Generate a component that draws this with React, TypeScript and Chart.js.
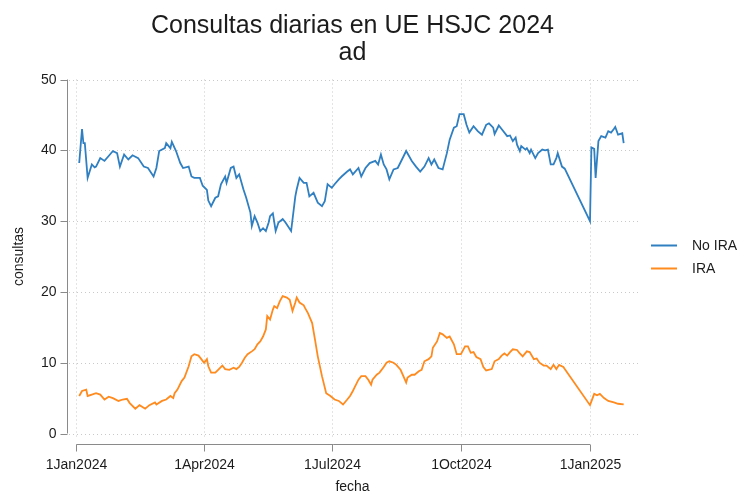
import React, { useEffect, useRef } from "react";
import { Chart, registerables } from "chart.js";

Chart.register(...registerables);

const titleText = "Consultas diarias en UE HSJC 2024";
const subtitleText = "ad";
const xAxisTitle = "fecha";
const yAxisTitle = "consultas";

// x values are days since 1 Jan 2024
const xTickDays = [0, 91, 182, 274, 366];
const xTickLabels = ["1Jan2024", "1Apr2024", "1Jul2024", "1Oct2024", "1Jan2025"];
const yTicks = [0, 10, 20, 30, 40, 50];

const seriesNames = ["No IRA", "IRA"];
const seriesColors = ["#2f7fc1", "#ff8a1e"];

const noIraDays = [2,4,5,6,8,11,13,14,17,20,23,26,29,31,34,37,40,44,48,51,55,57,59,63,64,67,68,71,74,76,80,82,84,88,90,93,94,96,99,101,103,106,107,110,112,114,116,119,121,124,125,127,129,131,133,135,137,138,140,142,144,147,149,153,156,157,159,162,164,166,169,172,175,177,179,182,184,187,189,193,195,197,201,203,206,209,213,215,217,219,221,223,226,229,232,235,239,242,245,248,251,253,255,258,261,264,266,269,271,273,276,278,280,283,286,289,292,294,297,298,301,303,307,309,311,313,314,316,317,320,321,323,324,327,329,332,334,336,338,340,342,343,346,348,366,367,369,370,372,374,377,379,381,383,384,386,389,390];
const noIraValues = [38.2,43.0,41.0,41.0,36.1,38.0,37.6,37.7,38.9,38.5,39.2,39.9,39.6,37.7,39.4,38.7,39.3,38.9,37.7,37.5,36.3,37.5,39.9,40.3,41.0,40.3,41.2,39.9,38.2,37.5,37.7,36.3,36.1,36.1,35.0,34.4,32.9,32.1,33.3,33.5,35.2,36.3,35.4,37.5,37.7,36.1,36.6,34.5,33.3,31.2,29.3,30.7,29.8,28.6,29.0,28.6,29.8,30.7,31.1,28.6,29.8,30.3,29.8,28.6,33.5,34.5,36.1,35.4,35.4,33.5,34.0,32.6,32.1,32.8,35.2,34.7,35.2,35.9,36.3,37.0,37.3,36.6,37.5,36.3,37.5,38.2,38.5,38.0,39.4,38.0,37.3,35.9,37.3,37.5,38.7,39.9,38.5,37.7,37.0,37.7,38.9,38.0,38.7,37.5,37.3,39.6,41.5,43.2,43.4,45.1,45.1,43.6,42.5,43.4,42.7,42.2,43.6,43.8,43.2,42.3,43.5,43.0,42.0,42.1,41.3,41.8,40.8,39.9,40.6,40.1,40.3,39.6,40.1,38.9,39.6,40.1,40.0,40.1,38.0,38.0,38.9,39.6,37.7,37.4,30.0,40.4,40.2,36.1,41.3,42.0,41.8,42.7,42.5,43.0,43.3,42.2,42.4,41.0];

const iraDays = [2,4,7,8,11,14,17,20,23,26,30,33,36,38,42,45,49,52,56,57,61,64,67,69,70,72,75,77,80,82,84,87,89,91,93,94,96,99,101,104,106,109,112,114,116,118,120,122,125,127,129,131,133,135,136,138,140,141,143,145,147,150,152,154,156,157,159,162,163,165,168,170,172,175,178,181,184,187,190,193,195,197,198,201,203,206,208,210,211,214,216,219,221,223,226,228,231,233,235,236,239,241,244,246,248,251,253,254,257,259,261,264,266,269,271,274,277,279,281,283,285,288,290,292,296,298,301,303,305,307,309,311,314,316,318,321,323,326,328,330,333,335,338,340,342,344,347,348,366,369,371,373,376,379,383,386,390];
const iraValues = [5.3,6.0,6.2,5.3,5.5,5.7,5.5,4.8,5.2,5.0,4.6,4.8,4.9,4.3,3.5,4.0,3.5,4.0,4.4,4.1,4.6,4.8,5.3,5.0,5.7,6.2,7.4,7.9,9.5,10.9,11.2,11.0,10.5,10.0,10.5,9.5,8.6,8.6,9.0,9.6,9.1,9.0,9.3,9.1,9.4,10.0,10.7,11.2,11.6,11.9,12.6,13.0,13.7,14.7,16.6,16.1,17.5,18.0,17.7,18.7,19.4,19.2,18.9,17.3,18.5,19.2,18.5,18.1,17.7,17.0,15.6,13.3,10.9,8.1,5.7,5.3,4.8,4.6,4.1,4.8,5.3,6.0,6.4,7.6,8.1,8.1,7.6,6.9,7.6,8.3,8.6,9.4,10.0,10.2,10.0,9.7,9.0,8.1,7.2,7.9,8.3,8.3,8.8,9.0,10.2,10.5,10.9,12.1,13.0,14.2,14.0,13.5,13.7,12.6,11.2,11.2,12.3,12.3,11.4,11.5,10.8,10.5,9.4,8.9,9.1,10.2,10.5,11.0,11.3,11.0,11.5,11.9,11.8,11.3,10.9,11.6,11.5,10.5,10.6,10.0,9.6,9.6,9.1,9.7,9.1,9.7,9.4,9.1,4.0,5.6,5.4,5.6,5.0,4.6,4.4,4.2,4.1];

const FONT = "'Liberation Sans', Arial, sans-serif";
const TEXT = "#1c1c1c";
const AXIS = "#8a8a8a";
const GRID = "#c9c9c9";

const stataPlugin = {
  id: "stataLook",
  beforeDatasetsDraw(chart: any) {
    const { ctx, chartArea, scales } = chart;
    const x = scales.x;
    const y = scales.y;
    ctx.save();
    ctx.strokeStyle = GRID;
    ctx.lineWidth = 1;
    ctx.setLineDash([1, 3]);
    yTicks.forEach((v) => {
      const py = Math.round(y.getPixelForValue(v)) + 0.5;
      ctx.beginPath();
      ctx.moveTo(chartArea.left + 2, py);
      ctx.lineTo(chartArea.right, py);
      ctx.stroke();
    });
    xTickDays.forEach((d) => {
      const px = Math.round(x.getPixelForValue(d)) + 0.5;
      ctx.beginPath();
      ctx.moveTo(px, y.getPixelForValue(yTicks[yTicks.length - 1]));
      ctx.lineTo(px, y.getPixelForValue(0) + 4);
      ctx.stroke();
    });
    ctx.restore();
  },
  afterDraw(chart: any) {
    const { ctx, chartArea, scales } = chart;
    const x = scales.x;
    const y = scales.y;
    ctx.save();
    ctx.setLineDash([]);
    // y axis
    const ax = Math.round(chartArea.left) + 0.5;
    ctx.strokeStyle = AXIS;
    ctx.lineWidth = 1;
    ctx.beginPath();
    ctx.moveTo(ax, y.getPixelForValue(50));
    ctx.lineTo(ax, y.getPixelForValue(0));
    ctx.stroke();
    ctx.font = `14px ${FONT}`;
    ctx.fillStyle = TEXT;
    ctx.textAlign = "right";
    ctx.textBaseline = "middle";
    yTicks.forEach((v) => {
      const py = Math.round(y.getPixelForValue(v)) + 0.5;
      ctx.beginPath();
      ctx.moveTo(ax - 7, py);
      ctx.lineTo(ax, py);
      ctx.stroke();
      ctx.fillText(String(v), ax - 11, py);
    });
    // x axis
    const ay = Math.round(y.getPixelForValue(0)) + 10.5;
    ctx.beginPath();
    ctx.moveTo(x.getPixelForValue(xTickDays[0]), ay);
    ctx.lineTo(x.getPixelForValue(xTickDays[xTickDays.length - 1]), ay);
    ctx.stroke();
    ctx.textAlign = "center";
    ctx.textBaseline = "middle";
    xTickDays.forEach((d, i) => {
      const px = Math.round(x.getPixelForValue(d)) + 0.5;
      ctx.beginPath();
      ctx.moveTo(px, ay);
      ctx.lineTo(px, ay + 7);
      ctx.stroke();
      ctx.fillText(xTickLabels[i], px, ay + 21);
    });
    // axis titles
    ctx.font = `14px ${FONT}`;
    ctx.fillText(xAxisTitle, (chartArea.left + chartArea.right) / 2, 487);
    ctx.save();
    ctx.translate(19, (chartArea.top + chartArea.bottom) / 2);
    ctx.rotate(-Math.PI / 2);
    ctx.fillText(yAxisTitle, 0, 0);
    ctx.restore();
    // title
    ctx.font = `25px ${FONT}`;
    ctx.fillText(titleText, (chartArea.left + chartArea.right) / 2, 26);
    ctx.fillText(subtitleText, (chartArea.left + chartArea.right) / 2, 53);
    // legend
    ctx.font = `14px ${FONT}`;
    ctx.textAlign = "left";
    const ly = [245.5, 268.5];
    seriesNames.forEach((n, i) => {
      ctx.strokeStyle = seriesColors[i];
      ctx.lineWidth = 2;
      ctx.beginPath();
      ctx.moveTo(651, ly[i]);
      ctx.lineTo(677, ly[i]);
      ctx.stroke();
      ctx.fillStyle = TEXT;
      ctx.fillText(n, 692, ly[i] + 1);
    });
    ctx.restore();
  },
};

export default function App() {
  const canvasRef = useRef<HTMLCanvasElement | null>(null);

  useEffect(() => {
    const canvas = canvasRef.current;
    if (!canvas) return;
    const chart = new Chart(canvas, {
      type: "line",
      data: {
        datasets: [
          {
            label: seriesNames[0],
            data: noIraDays.map((d, i) => ({ x: d, y: noIraValues[i] })),
            borderColor: seriesColors[0],
            backgroundColor: seriesColors[0],
            borderWidth: 1.8,
            pointRadius: 0,
            tension: 0,
          },
          {
            label: seriesNames[1],
            data: iraDays.map((d, i) => ({ x: d, y: iraValues[i] })),
            borderColor: seriesColors[1],
            backgroundColor: seriesColors[1],
            borderWidth: 1.8,
            pointRadius: 0,
            tension: 0,
          },
        ],
      },
      options: {
        responsive: false,
        animation: false,
        events: [],
        layout: { padding: { left: 67, right: 106, top: 79.5, bottom: 62.5 } },
        scales: {
          x: { type: "linear", min: -6.7, max: 400.2, display: false },
          y: { type: "linear", min: 0, max: 50, display: false },
        },
        plugins: {
          legend: { display: false },
          title: { display: false },
          tooltip: { enabled: false },
        },
      },
      plugins: [stataPlugin],
    });
    return () => chart.destroy();
  }, []);

  return (
    <div style={{ position: "fixed", left: 0, top: 0, width: 744, height: 496, background: "#fff" }}>
      <canvas ref={canvasRef} width={744} height={496} style={{ display: "block" }} />
    </div>
  );
}
